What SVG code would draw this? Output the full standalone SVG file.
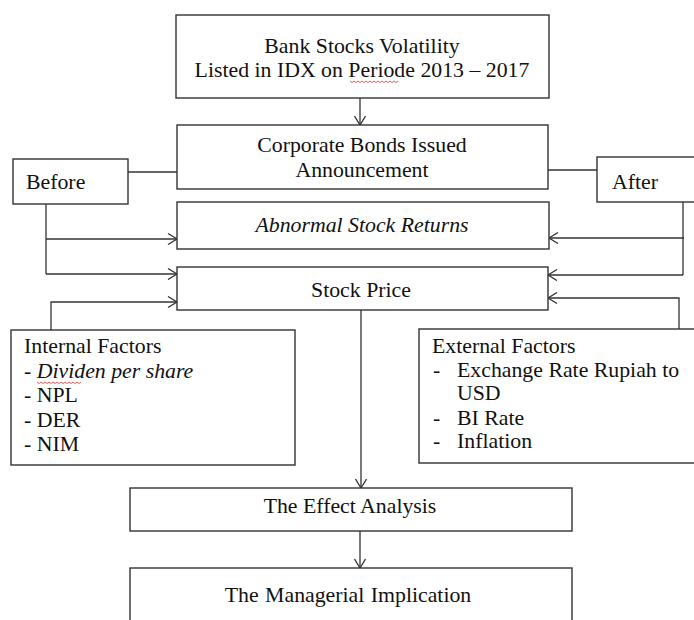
<svg xmlns="http://www.w3.org/2000/svg" width="694" height="620" viewBox="0 0 694 620">
  <defs>
    <marker id="arr" viewBox="0 0 10 12" refX="10" refY="6" markerWidth="10" markerHeight="12" markerUnits="userSpaceOnUse" orient="auto">
      <path d="M1,0.5 L10,6 L1,11.5" fill="none" stroke="#333" stroke-width="1.3"/>
    </marker>
  </defs>
  <style>
    .box { fill: #fff; stroke: #333; stroke-width: 1.4; }
    .t { font-family: 'Liberation Serif', 'DejaVu Serif', serif; font-size: 21.8px; fill: #111; }
    .c { text-anchor: middle; }
    .i { font-style: italic; }
    .ln { fill: none; stroke: #333; stroke-width: 1.3; }
    .sq { fill: none; stroke: #e03030; stroke-width: 0.8; }
  </style>
  <rect width="694" height="620" fill="#fff"/>

  <g id="connectors">
    <path class="ln" d="M360,98 V125" marker-end="url(#arr)"/>
    <path class="ln" d="M128,172 H177"/>
    <path class="ln" d="M548,170 H597"/>
    <path class="ln" d="M46,204 V274"/>
    <path class="ln" d="M46,239 H177" marker-end="url(#arr)"/>
    <path class="ln" d="M46,274 H177" marker-end="url(#arr)"/>
    <path class="ln" d="M683,202 V275"/>
    <path class="ln" d="M684,238 H549" marker-end="url(#arr)"/>
    <path class="ln" d="M683,275 H548" marker-end="url(#arr)"/>
    <path class="ln" d="M51,330 V302 H177" marker-end="url(#arr)"/>
    <path class="ln" d="M679,329 V298 H548" marker-end="url(#arr)"/>
    <path class="ln" d="M361,310 V488" marker-end="url(#arr)"/>
    <path class="ln" d="M360,531 V568" marker-end="url(#arr)"/>
  </g>

  <g id="bank-stocks">
    <rect class="box" x="176" y="15" width="373" height="83"/>
    <text class="t c" x="362" y="53">Bank Stocks Volatility</text>
    <text class="t c" x="362" y="77">Listed in IDX on Periode 2013 – 2017</text>
    <path class="sq" d="M350,81 l2,1.5 l2,-1.5 l2,1.5 l2,-1.5 l2,1.5 l2,-1.5 l2,1.5 l2,-1.5 l2,1.5 l2,-1.5 l2,1.5 l2,-1.5 l2,1.5 l2,-1.5 l2,1.5 l2,-1.5 l2,1.5 l2,-1.5 l2,1.5 l2,-1.5 l2,1.5 l2,-1.5 l2,1.5 l2,-1.5"/>
  </g>

  <g id="corporate-bonds">
    <rect class="box" x="177" y="125" width="371" height="64"/>
    <text class="t c" x="362" y="152">Corporate Bonds Issued</text>
    <text class="t c" x="362" y="177">Announcement</text>
  </g>

  <g id="before">
    <rect class="box" x="13" y="159" width="115" height="45"/>
    <text class="t" x="26" y="189">Before</text>
  </g>

  <g id="after">
    <rect class="box" x="597" y="157" width="100" height="45"/>
    <text class="t" x="612" y="189">After</text>
  </g>

  <g id="abnormal-returns">
    <rect class="box" x="177" y="202" width="372" height="47"/>
    <text class="t c i" x="362" y="232">Abnormal Stock Returns</text>
  </g>

  <g id="stock-price">
    <rect class="box" x="177" y="267" width="371" height="43"/>
    <text class="t c" x="361" y="297">Stock Price</text>
  </g>

  <g id="internal-factors">
    <rect class="box" x="11" y="330" width="284" height="135"/>
    <text class="t" x="24" y="353">Internal Factors</text>
    <text class="t" x="24" y="378">- <tspan class="i">Dividen per share</tspan></text>
    <path class="sq" d="M37,382 l2,1.5 l2,-1.5 l2,1.5 l2,-1.5 l2,1.5 l2,-1.5 l2,1.5 l2,-1.5 l2,1.5 l2,-1.5 l2,1.5 l2,-1.5 l2,1.5 l2,-1.5 l2,1.5 l2,-1.5 l2,1.5 l2,-1.5 l2,1.5 l2,-1.5 l2,1.5 l2,-1.5"/>
    <text class="t" x="24" y="402">- NPL</text>
    <text class="t" x="24" y="427">- DER</text>
    <text class="t" x="24" y="451">- NIM</text>
  </g>

  <g id="external-factors">
    <rect class="box" x="419" y="329" width="280" height="134"/>
    <text class="t" x="432" y="353">External Factors</text>
    <text class="t" x="433" y="377">-</text>
    <text class="t" x="457" y="377">Exchange Rate Rupiah to</text>
    <text class="t" x="457" y="400">USD</text>
    <text class="t" x="433" y="425">-</text>
    <text class="t" x="457" y="425">BI Rate</text>
    <text class="t" x="433" y="448">-</text>
    <text class="t" x="457" y="448">Inflation</text>
  </g>

  <g id="effect-analysis">
    <rect class="box" x="130" y="488" width="442" height="43"/>
    <text class="t c" x="350" y="513">The Effect Analysis</text>
  </g>

  <g id="managerial-implication">
    <rect class="box" x="130" y="568" width="442" height="60"/>
    <text class="t c" x="348" y="602" word-spacing="1">The Managerial Implication</text>
  </g>
</svg>
